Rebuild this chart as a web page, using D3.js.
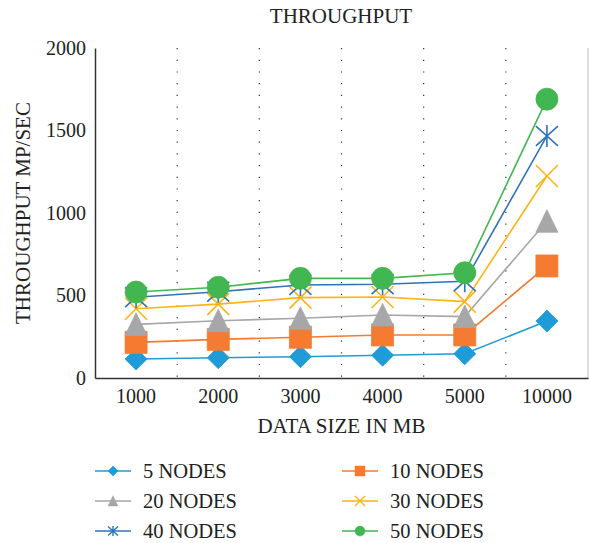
<!DOCTYPE html>
<html>
<head>
<meta charset="utf-8">
<script src="https://cdn.jsdelivr.net/npm/d3@7"></script>
<style>
  body { margin: 0; background: #fff; }
  text { font-family: "Liberation Serif", "DejaVu Serif", serif; fill: #222; }
</style>
</head>
<body>
<div id="chart-area"></div>
<script>
// data
var sizes = ["1000", "2000", "3000", "4000", "5000", "10000"];
var seriesNames = ["5 NODES", "10 NODES", "20 NODES", "30 NODES", "40 NODES", "50 NODES"];
var nodes5  = [115, 123, 129, 138, 147, 345];
var nodes10 = [216, 234, 247, 261, 261, 679];
var nodes20 = [325, 347, 362, 382, 372, 950];
var nodes30 = [420, 448, 487, 491, 463, 1224];
var nodes40 = [489, 523, 564, 568, 586, 1467];
var nodes50 = [521, 550, 604, 604, 638, 1690];
var yTicks = [0, 500, 1000, 1500, 2000];

var allValues = [nodes5, nodes10, nodes20, nodes30, nodes40, nodes50];
var colors = ["#1f9bd7", "#f47b2f", "#a7a7aa", "#fdb515", "#2f74b9", "#42b650"];
var shapes = ["diamond", "square", "triangle", "x", "star", "circle"];

var W = 589, H = 543;
var margin = {left: 95, right: 588, top: 48, bottom: 378};

var svg = d3.select("#chart-area").append("svg")
  .attr("width", W).attr("height", H);

var x = d3.scaleBand().domain(sizes).range([margin.left, margin.right]);
var y = d3.scaleLinear().domain([0, 2000]).range([margin.bottom, margin.top]);
var cx = function(d) { return x(d) + x.bandwidth() / 2; };

// marker path, r = half size
function marker(type, r) {
  switch (type) {
    case "diamond": return "M0," + (-r) + "L" + r + ",0L0," + r + "L" + (-r) + ",0Z";
    case "square": return "M" + (-r) + "," + (-r) + "h" + (2 * r) + "v" + (2 * r) + "h" + (-2 * r) + "Z";
    case "triangle": return "M0," + (-r * 1.05) + "L" + r + "," + r + "L" + (-r) + "," + r + "Z";
    case "x": return "M" + (-r) + "," + (-r) + "L" + r + "," + r + "M" + r + "," + (-r) + "L" + (-r) + "," + r;
    case "star": return "M" + (-r) + "," + (-r * 0.9) + "L" + r + "," + (r * 0.9) + "M" + r + "," + (-r * 0.9) + "L" + (-r) + "," + (r * 0.9) + "M0," + (-r) + "V" + r;
    case "circle": return d3.arc()({innerRadius: 0, outerRadius: r, startAngle: 0, endAngle: 2 * Math.PI});
  }
}
var lineShape = function(t) { return t === "x" || t === "star"; };

// title
svg.append("text")
  .attr("x", 341).attr("y", 23)
  .attr("text-anchor", "middle")
  .attr("font-size", "21px")
  .text("THROUGHPUT");

// dotted vertical grid at band boundaries
svg.append("g").selectAll("line")
  .data(sizes.slice(1))
  .enter().append("line")
  .attr("x1", d => x(d)).attr("x2", d => x(d))
  .attr("y1", margin.top).attr("y2", margin.bottom)
  .attr("stroke", "#333")
  .attr("stroke-width", 1.2)
  .attr("stroke-dasharray", "1.2,10.5");

// right border
svg.append("line")
  .attr("x1", margin.right).attr("x2", margin.right)
  .attr("y1", margin.top).attr("y2", margin.bottom)
  .attr("stroke", "#bbb").attr("stroke-width", 1);

// axes
var yAxisCall = d3.axisLeft(y).tickValues(yTicks).tickFormat(d3.format("d")).tickSize(0).tickPadding(9);
var gy = svg.append("g")
  .attr("transform", "translate(" + margin.left + ",0)")
  .call(yAxisCall);
gy.select(".domain").attr("stroke", "#333").attr("stroke-width", 1.5);
gy.selectAll("text").attr("font-size", "20px").attr("font-family", "Liberation Serif").attr("fill", "#222");

var xAxisCall = d3.axisBottom(x).tickSize(0).tickPadding(11);
var gx = svg.append("g")
  .attr("transform", "translate(0," + margin.bottom + ")")
  .call(xAxisCall);
gx.select(".domain").attr("stroke", "#333").attr("stroke-width", 1.5);
gx.selectAll("text").attr("font-size", "20px").attr("font-family", "Liberation Serif").attr("fill", "#222");

// axis labels
svg.append("text")
  .attr("x", (margin.left + margin.right) / 2).attr("y", 433)
  .attr("text-anchor", "middle")
  .attr("font-size", "21px")
  .text("DATA SIZE IN MB");

svg.append("text")
  .attr("transform", "translate(30," + (margin.top + margin.bottom) / 2 + ") rotate(-90)")
  .attr("text-anchor", "middle")
  .attr("font-size", "21px")
  .text("THROUGHPUT MP/SEC");

// series
var line = d3.line()
  .x((d, i) => cx(sizes[i]))
  .y(d => y(d));

allValues.forEach(function(vals, s) {
  var g = svg.append("g").attr("class", "series");
  g.append("path")
    .attr("d", line(vals))
    .attr("fill", "none")
    .attr("stroke", colors[s])
    .attr("stroke-width", 1.6);
  g.selectAll(".mk").data(vals).enter().append("path")
    .attr("class", "mk")
    .attr("transform", (d, i) => "translate(" + cx(sizes[i]) + "," + y(d) + ")")
    .attr("d", marker(shapes[s], 11))
    .attr("fill", lineShape(shapes[s]) ? "none" : colors[s])
    .attr("stroke", colors[s])
    .attr("stroke-width", lineShape(shapes[s]) ? 1.6 : 0.8);
});

// legend
var legX = [95, 342], legY = [471, 501, 531];
seriesNames.forEach(function(name, s) {
  var lx = legX[s % 2], ly = legY[Math.floor(s / 2)];
  var g = svg.append("g").attr("transform", "translate(" + lx + "," + ly + ")");
  g.append("line")
    .attr("x1", 0).attr("x2", 36)
    .attr("stroke", colors[s]).attr("stroke-width", 1.6);
  g.append("path")
    .attr("transform", "translate(18,0)")
    .attr("d", marker(shapes[s], 5))
    .attr("fill", lineShape(shapes[s]) ? "none" : colors[s])
    .attr("stroke", colors[s])
    .attr("stroke-width", lineShape(shapes[s]) ? 1.4 : 0.5);
  g.append("text")
    .attr("x", 48).attr("y", 7)
    .attr("font-size", "20.5px")
    .text(name);
});
</script>
</body>
</html>
